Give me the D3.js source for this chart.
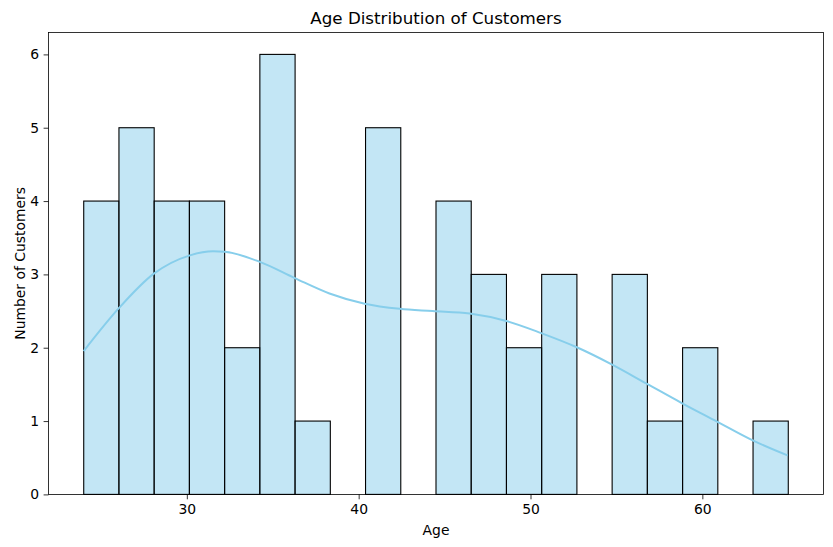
<!DOCTYPE html>
<html>
<head>
<meta charset="utf-8">
<script src="https://cdn.jsdelivr.net/npm/d3@7"></script>
<style>
  body { margin: 0; background: #fff; }
  text { font-family: "DejaVu Sans", sans-serif; }
</style>
</head>
<body>
<div id="chart"></div>
<script>
// histogram counts, 20 equal bins between binStart and binEnd
const binStart = 24, binEnd = 65;
const counts = [4, 5, 4, 4, 2, 6, 1, 0, 5, 0, 4, 3, 2, 3, 0, 3, 1, 2, 0, 1];
// kde curve (age, count scale)
const kdeAge = [24.0, 26.07, 28.08, 30.18, 31.53, 32.2, 34.25, 36.28, 38.3, 40.35, 42.39, 44.3,
                46.46, 48.59, 50.62, 52.66, 54.75, 56.76, 58.8, 60.83, 62.93, 64.96];
const kdeCount = [1.955, 2.546, 3.01, 3.26, 3.316, 3.31, 3.17, 2.95, 2.74, 2.60, 2.53, 2.50,
                  2.466, 2.365, 2.20, 2.01, 1.77, 1.51, 1.246, 0.996, 0.737, 0.532];
const xTicks = [30, 40, 50, 60];
const yTicks = [0, 1, 2, 3, 4, 5, 6];

(function () {
    const width = 833, height = 547;
    const margin = { left: 48.5, top: 32.4, right: 833 - 48.5 - 775, bottom: 547 - 32.4 - 462 };
    const svg = d3.select("#chart")
        .append("svg")
        .attr("width", width)
        .attr("height", height);

    const binW = (binEnd - binStart) / counts.length;
    const bins = counts.map((c, i) => ({ x0: binStart + i * binW, x1: binStart + (i + 1) * binW, c }));

    const pad = (binEnd - binStart) * 0.05;
    const x = d3.scaleLinear()
        .domain([binStart - pad, binEnd + pad])
        .range([margin.left, width - margin.right]);
    const y = d3.scaleLinear()
        .domain([0, d3.max(counts) * 1.05])
        .range([height - margin.bottom, margin.top]);

    svg.append("g")
        .selectAll("rect")
        .data(bins)
        .join("rect")
        .attr("x", d => x(d.x0))
        .attr("y", d => y(d.c))
        .attr("width", d => x(d.x1) - x(d.x0))
        .attr("height", d => y(0) - y(d.c))
        .attr("fill", "#87ceeb")
        .attr("fill-opacity", 0.5)
        .attr("stroke", "#000")
        .attr("stroke-width", 1.1);

    const line = d3.line()
        .x((d, i) => x(kdeAge[i]))
        .y(d => y(d))
        .curve(d3.curveMonotoneX);
    svg.append("path")
        .datum(kdeCount)
        .attr("d", line)
        .attr("fill", "none")
        .attr("stroke", "#87ceeb")
        .attr("stroke-width", 2);

    // frame
    svg.append("rect")
        .attr("x", margin.left)
        .attr("y", margin.top)
        .attr("width", width - margin.left - margin.right)
        .attr("height", height - margin.top - margin.bottom)
        .attr("fill", "none")
        .attr("stroke", "#000")
        .attr("stroke-width", 0.8);

    svg.append("g")
        .attr("transform", `translate(0,${height - margin.bottom})`)
        .call(d3.axisBottom(x).tickValues(xTicks).tickSize(4.9).tickPadding(4.6))
        .call(g => {
            g.select(".domain").remove();
            g.selectAll("line").attr("stroke-width", 0.8);
            g.selectAll("text").attr("font-size", 13.9).attr("fill", "#000");
        });
    svg.append("g")
        .attr("transform", `translate(${margin.left},0)`)
        .call(d3.axisLeft(y).tickValues(yTicks).tickFormat(d3.format("d")).tickSize(4.9).tickPadding(4.6))
        .call(g => {
            g.select(".domain").remove();
            g.selectAll("line").attr("stroke-width", 0.8);
            g.selectAll("text").attr("font-size", 13.9).attr("fill", "#000");
        });

    svg.append("text")
        .text("Age Distribution of Customers")
        .attr("x", (margin.left + width - margin.right) / 2)
        .attr("y", 24)
        .attr("text-anchor", "middle")
        .attr("font-size", 16.7);
    svg.append("text")
        .text("Age")
        .attr("x", (margin.left + width - margin.right) / 2)
        .attr("y", 535)
        .attr("text-anchor", "middle")
        .attr("font-size", 13.9);
    const cy = (margin.top + height - margin.bottom) / 2;
    svg.append("text")
        .text("Number of Customers")
        .attr("x", 25.5)
        .attr("y", cy)
        .attr("text-anchor", "middle")
        .attr("transform", `rotate(-90,25.5,${cy})`)
        .attr("font-size", 13.9);
})();
</script>
</body>
</html>
